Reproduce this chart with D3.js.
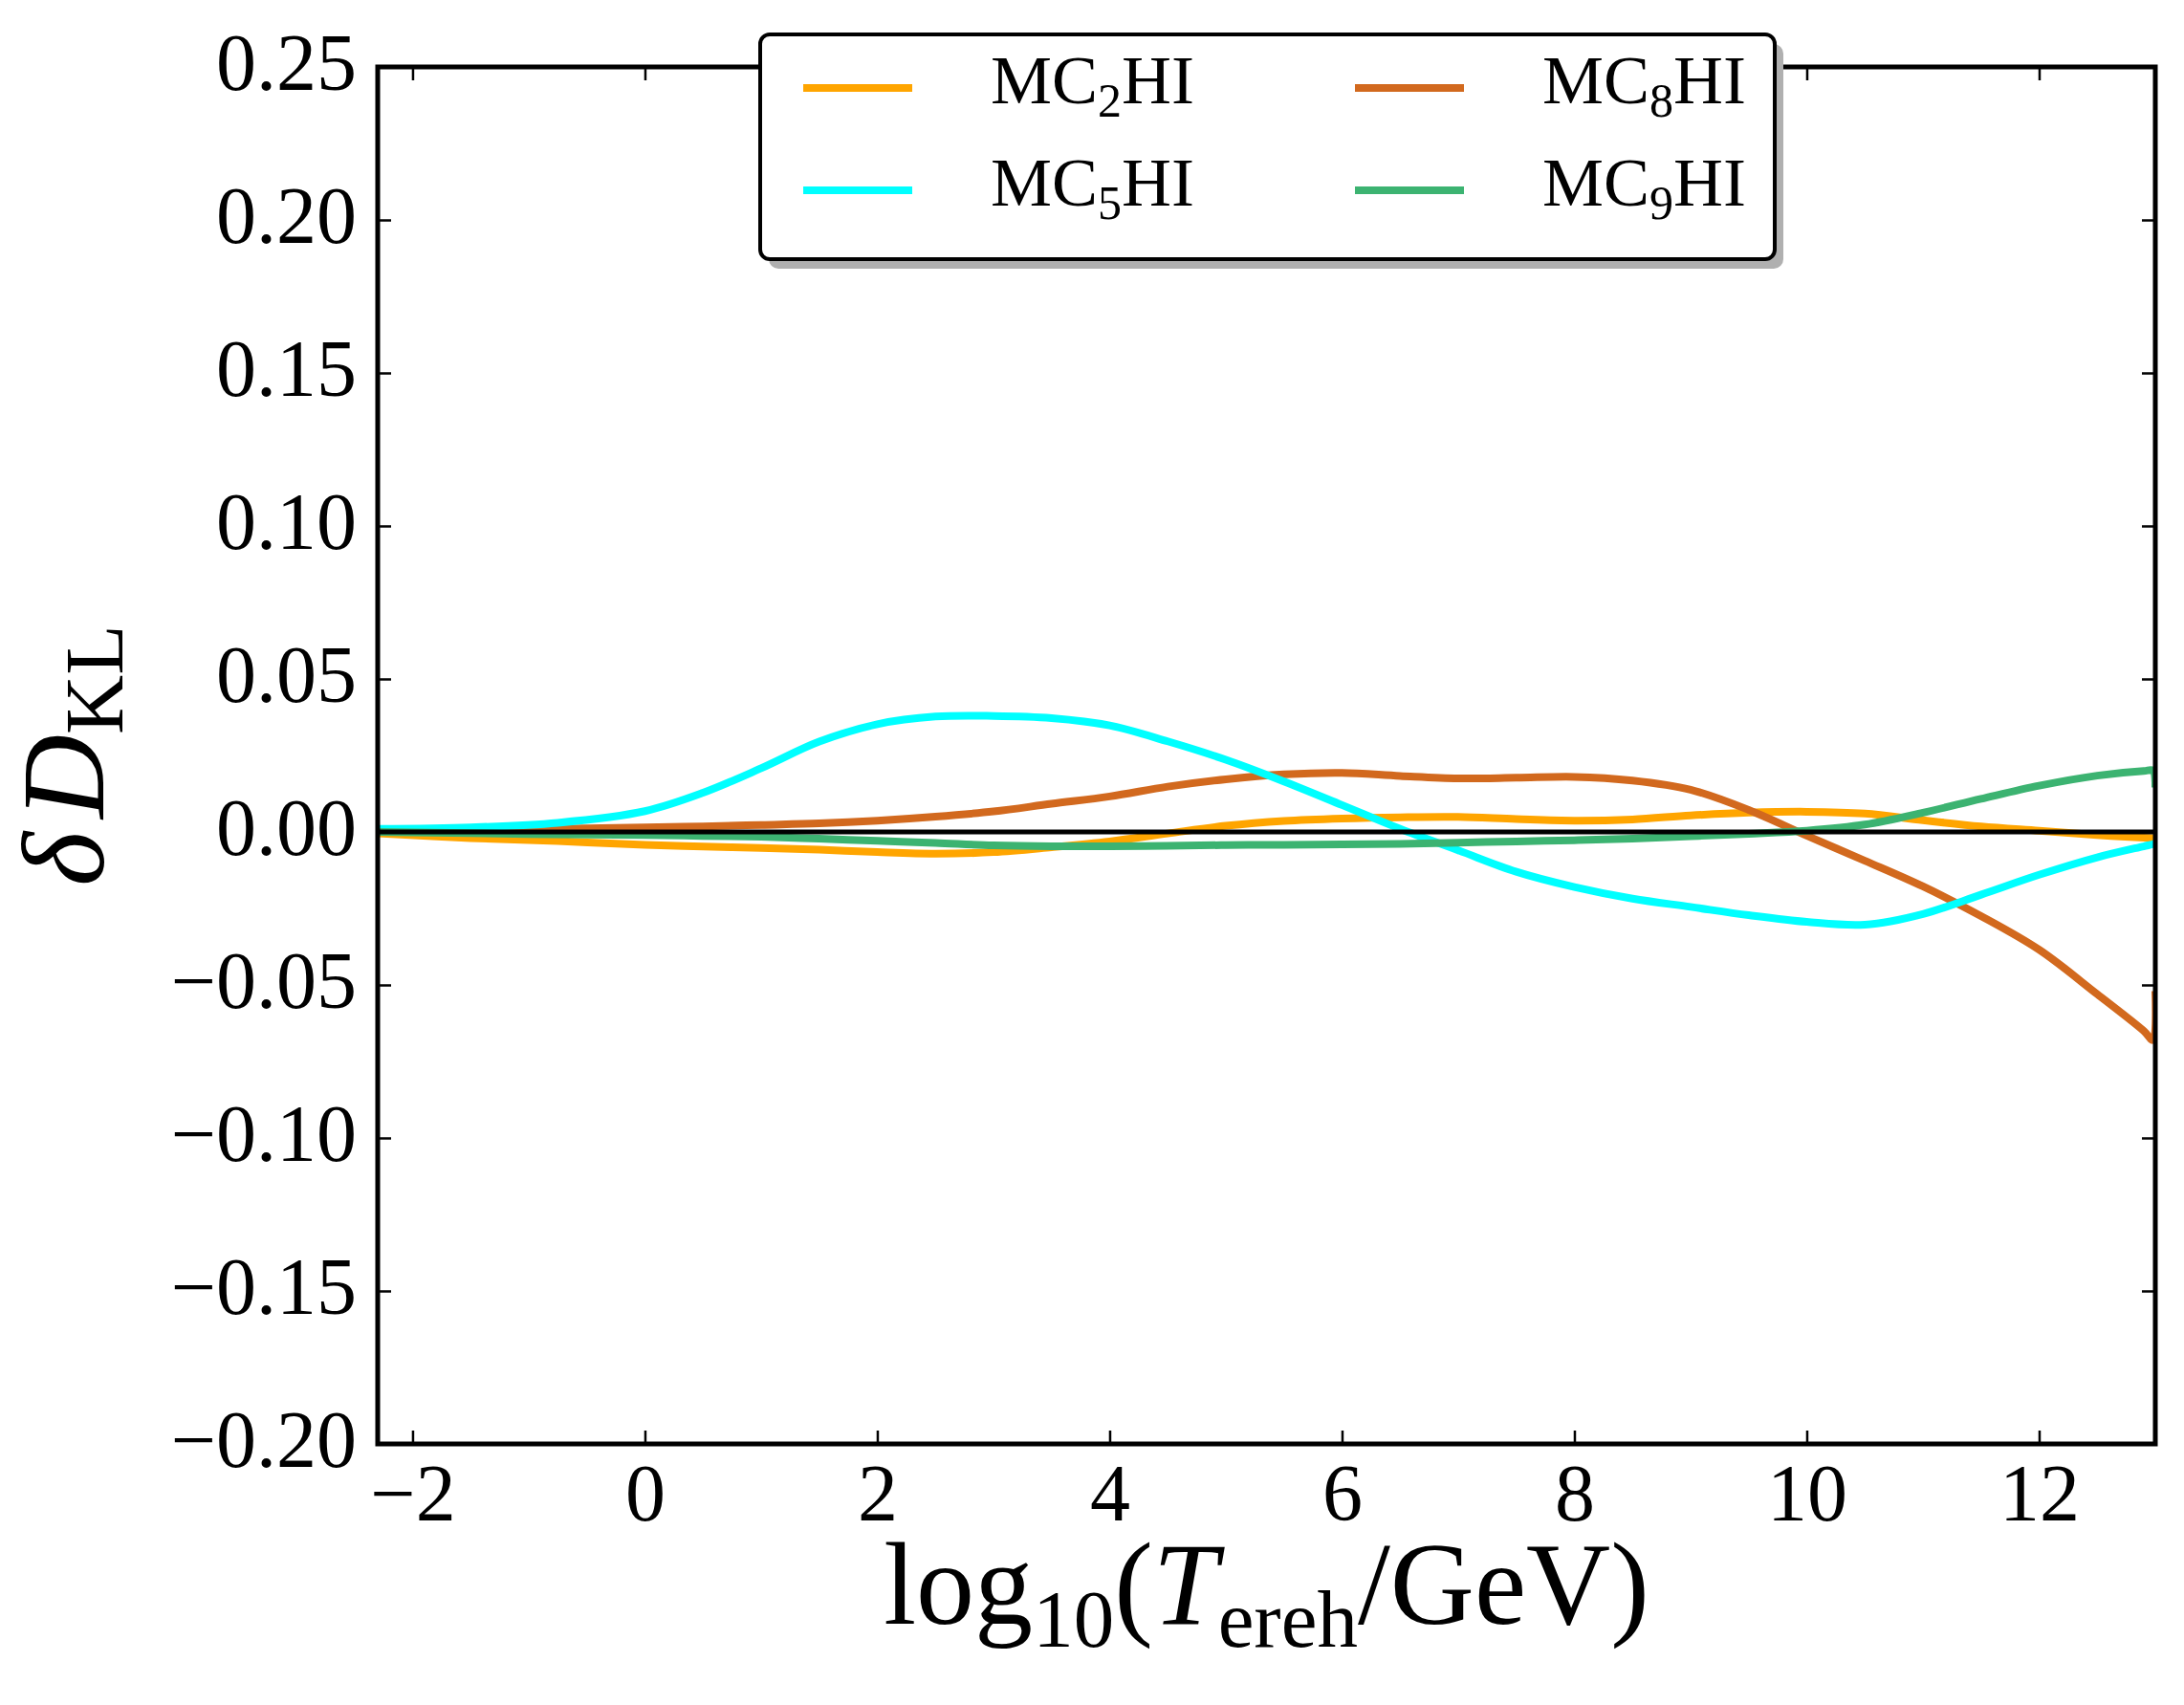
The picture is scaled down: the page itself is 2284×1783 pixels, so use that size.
<!DOCTYPE html>
<html><head><meta charset="utf-8">
<script src="https://cdn.jsdelivr.net/npm/d3@7"></script>
<style>html,body{margin:0;padding:0;background:#fff;}svg{display:block;}</style>
</head><body>
<svg id="chart" width="2284" height="1783"></svg>
<script>
const xValues = [-2.3,-1.5,-0.75,0,0.5,1.0,1.5,2.0,2.5,3.0,3.5,4.0,4.5,5.0,5.5,6.0,6.5,7.0,7.5,8.0,8.5,9.0,9.5,10.0,10.5,11.0,11.5,12.0,12.5,12.9,12.98,13.0];
const mc2hi = [-0.0005,-0.002,-0.003,-0.0042,-0.0048,-0.0052,-0.0058,-0.0066,-0.0071,-0.0066,-0.005,-0.0031,-0.0005,0.002,0.0036,0.0044,0.0048,0.0049,0.0042,0.0037,0.0041,0.0054,0.0063,0.0066,0.006,0.0038,0.0018,0.0004,-0.001,-0.0019,-0.002,-0.002];
const mc5hi = [0.001,0.0015,0.003,0.0068,0.0128,0.0208,0.0295,0.0352,0.0377,0.0379,0.0372,0.0348,0.0296,0.0236,0.0165,0.0088,0.001,-0.006,-0.013,-0.018,-0.0218,-0.0245,-0.0272,-0.0294,-0.0303,-0.0268,-0.0205,-0.014,-0.0083,-0.0047,-0.004,-0.0037];
const mc8hi = [0,0.0005,0.001,0.0015,0.0018,0.0023,0.0028,0.0037,0.005,0.0067,0.0092,0.0116,0.0148,0.0172,0.0188,0.0193,0.0183,0.0175,0.0177,0.018,0.0168,0.0138,0.0072,-0.0012,-0.0094,-0.0178,-0.0275,-0.0385,-0.053,-0.065,-0.068,-0.052];
const mc9hi = [0,-0.0004,-0.0008,-0.001,-0.0013,-0.0016,-0.0022,-0.0029,-0.0036,-0.0044,-0.0047,-0.0047,-0.0045,-0.0043,-0.0042,-0.0041,-0.0039,-0.0035,-0.0031,-0.0027,-0.0022,-0.0014,-0.0006,0.0004,0.0024,0.0063,0.0108,0.0151,0.0184,0.0199,0.02,0.0145];
const seriesNames = ["MC2HI","MC5HI","MC8HI","MC9HI"];
const seriesDigits = ["2","5","8","9"];
const seriesColors = ["#FFA500","#00FFFF","#D2691E","#3CB371"];
const xTicks = [-2,0,2,4,6,8,10,12];
const yTicks = [-0.20,-0.15,-0.10,-0.05,0.00,0.05,0.10,0.15,0.20,0.25];

const FONT = "'Liberation Serif', 'DejaVu Serif', serif";
const svg = d3.select("#chart");
const L = 395, R = 2254, T = 70, B = 1510;
const x = d3.scaleLinear().domain([-2.3, 13]).range([L, R]);
const y = d3.scaleLinear().domain([-0.20, 0.25]).range([B, T]);

svg.append("defs").append("clipPath").attr("id","clip")
  .append("rect").attr("x",L).attr("y",T).attr("width",R-L).attr("height",B-T);

const allSeries = [mc2hi, mc5hi, mc8hi, mc9hi];
const drawOrder = [0,2,1,3];
const line = d3.line().x((d,i)=>x(xValues[i])).y(d=>y(d)).curve(d3.curveCatmullRom.alpha(0.5));
const plot = svg.append("g").attr("clip-path","url(#clip)");
drawOrder.forEach(k=>{
  plot.append("path").datum(allSeries[k]).attr("d",line)
    .attr("fill","none").attr("stroke",seriesColors[k]).attr("stroke-width",8)
    .attr("stroke-linejoin","round");
});
// zero line
plot.append("line").attr("x1",x(-2.3)).attr("x2",x(13)).attr("y1",y(0)).attr("y2",y(0))
  .attr("stroke","#000").attr("stroke-width",5);

// axes (ticks inward on all sides)
const tickLen = 14;
const gB = svg.append("g").attr("transform",`translate(0,${B})`)
  .call(d3.axisBottom(x).tickValues(xTicks).tickSizeInner(-tickLen).tickSizeOuter(0).tickFormat(d=>d<0?"\u2212"+Math.abs(d):d));
const gT = svg.append("g").attr("transform",`translate(0,${T})`)
  .call(d3.axisTop(x).tickValues(xTicks).tickSizeInner(-tickLen).tickSizeOuter(0).tickFormat(""));
const gL = svg.append("g").attr("transform",`translate(${L},0)`)
  .call(d3.axisLeft(y).tickValues(yTicks).tickSizeInner(-tickLen).tickSizeOuter(0)
  .tickFormat(d=>{const s=Math.abs(d).toFixed(2); return (d<-1e-9?"\u2212":"")+s;}));
const gR = svg.append("g").attr("transform",`translate(${R},0)`)
  .call(d3.axisRight(y).tickValues(yTicks).tickSizeInner(-tickLen).tickSizeOuter(0).tickFormat(""));
[gB,gT,gL,gR].forEach(g=>{
  g.select(".domain").remove();
  g.selectAll(".tick line").attr("stroke","#000").attr("stroke-width",2.5);
});
gB.selectAll(".tick text").attr("font-family",FONT).attr("font-size",84).attr("fill","#000")
  .attr("y",null).attr("dy",null).attr("transform","translate(0,80)");
gL.selectAll(".tick text").attr("font-family",FONT).attr("font-size",84).attr("fill","#000")
  .attr("x",-22).attr("dy",null).attr("y",23);

// frame
svg.append("rect").attr("x",L).attr("y",T).attr("width",R-L).attr("height",B-T)
  .attr("fill","none").attr("stroke","#000").attr("stroke-width",5);

// x label
const xl = svg.append("text").attr("x",(L+R)/2).attr("y",1698).attr("text-anchor","middle")
  .attr("font-family",FONT).attr("font-size",122).attr("fill","#000");
xl.append("tspan").text("log");
xl.append("tspan").attr("font-size",85).attr("dy",24).text("10");
xl.append("tspan").attr("dy",-24).text("(");
xl.append("tspan").attr("font-style","italic").text("T");
xl.append("tspan").attr("font-size",85).attr("dy",24).text("ereh");
xl.append("tspan").attr("dy",-24).text("/GeV)");

// y label
const yl = svg.append("text").attr("transform",`translate(108,${(T+B)/2}) rotate(-90)`)
  .attr("text-anchor","middle").attr("font-family",FONT).attr("font-size",122).attr("fill","#000");
yl.append("tspan").attr("font-style","italic").text("\u03B4");
yl.append("tspan").attr("font-style","italic").attr("dx",14).text("D");
yl.append("tspan").attr("font-size",86).attr("dy",20).text("KL");

// legend
const lg = svg.append("g");
const lx = 795, ly = 36, lw = 1061, lh = 235;
lg.append("rect").attr("x",lx+9).attr("y",ly+10).attr("width",lw).attr("height",lh)
  .attr("rx",10).attr("fill","#b0b0b0");
lg.append("rect").attr("x",lx).attr("y",ly).attr("width",lw).attr("height",lh)
  .attr("rx",10).attr("fill","#fff").attr("stroke","#000").attr("stroke-width",4);
const colX = [840, 1417];
const rowY = [92, 199];
seriesNames.forEach((name,i)=>{
  const c = Math.floor(i/2), r = i%2;
  lg.append("line").attr("x1",colX[c]).attr("x2",colX[c]+114).attr("y1",rowY[r]).attr("y2",rowY[r])
    .attr("stroke",seriesColors[i]).attr("stroke-width",8);
  const t = lg.append("text").attr("x",colX[c]+196).attr("y",rowY[r]+16)
    .attr("font-family",FONT).attr("font-size",72).attr("fill","#000");
  t.append("tspan").text("MC");
  t.append("tspan").attr("font-size",50).attr("dy",14).text(seriesDigits[i]);
  t.append("tspan").attr("dy",-14).text("HI");
});
</script>
</body></html>
